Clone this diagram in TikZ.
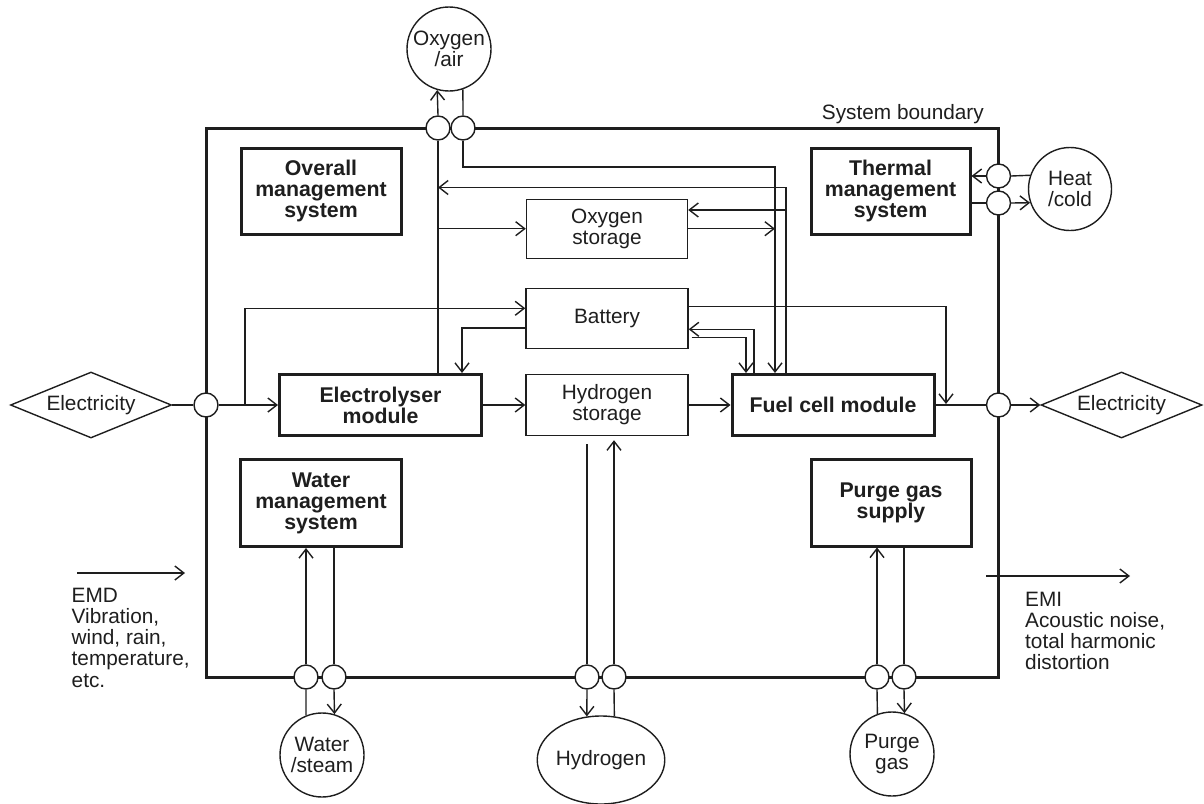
\documentclass[tikz,border=0pt]{standalone}
\usepackage{fontspec}
\setmainfont{Liberation Sans}
\usetikzlibrary{arrows.meta,shapes.geometric}
\definecolor{ink}{RGB}{30,30,30}
\begin{document}
\begin{tikzpicture}[x=1pt,y=-1pt,
  line/.style={draw=ink,line width=1.4pt},
  arr/.style={line,-{Straight Barb[length=9pt,width=14pt]}},
  regfont/.style={font=\fontsize{20.8}{21}\selectfont},
  thickbox/.style={draw=ink,line width=3pt,fill=white,align=center,inner sep=0pt,text=ink,
    font=\fontsize{21.3}{21}\selectfont\bfseries},
  thinbox/.style={draw=ink,line width=1.4pt,fill=white,align=center,inner sep=0pt,text=ink,regfont},
  port/.style={circle,draw=ink,line width=1.4pt,fill=white,minimum size=24pt,inner sep=0pt},
  ext/.style={circle,draw=ink,line width=1.4pt,minimum size=84pt,inner sep=0pt,align=center,text=ink,regfont},
  gem/.style={diamond,draw=ink,line width=1.4pt,aspect=2.45,minimum width=161pt,minimum height=66pt,inner sep=0pt,text=ink,regfont},
  txt/.style={inner sep=0pt,align=left,text=ink,font=\fontsize{20.8}{21.3}\selectfont},
  boundary/.style={draw=ink,line width=3pt}
]
\useasboundingbox (0,0) rectangle (1204,803);

% system boundary
\draw[boundary] (206,128) rectangle (998.5,677);
\node[txt,anchor=base east] (sysT) at (984,119) {System boundary};

% main blocks
\node[thickbox,minimum width=160pt,minimum height=86pt] (overall) at (321,191) {Overall\\management\\system};
\node[thickbox,minimum width=159pt,minimum height=86pt] (thermal) at (890.5,191) {Thermal\\management\\system};
\node[thickbox,minimum width=202pt,minimum height=61pt] (elys) at (380.5,405) {Electrolyser\\module};
\node[thickbox,minimum width=202pt,minimum height=61pt] (fc) at (833,405) {Fuel cell module};
\node[thickbox,minimum width=161pt,minimum height=87pt] (water) at (321,503) {Water\\management\\system};
\node[thickbox,minimum width=160pt,minimum height=87pt] (purge) at (891,502.5) {Purge gas\\supply};

\node[thinbox,minimum width=161pt,minimum height=59pt] (ostore) at (607,228.7) {Oxygen\\storage};
\node[thinbox,minimum width=162pt,minimum height=60pt] (batt) at (607,318.3) {Battery};
\node[thinbox,minimum width=162pt,minimum height=61pt] (hstore) at (607,405) {Hydrogen\\storage};

% external
\node[ext] (oxy) at (449,49) {Oxygen\\/air};
\node[ext,minimum size=83pt] (heat) at (1070,189) {Heat\\/cold};
\node[ext] (wat) at (322,755) {Water\\/steam};
\node[ellipse,draw=ink,line width=1.4pt,minimum width=98pt,minimum height=88pt,inner sep=0pt,text=ink,regfont] (hyd) at (601,760) {Hydrogen};
\node[ext] (pg) at (892,754) {Purge\\gas};
\node[gem] (elL) at (91,405) {Electricity};
\node[gem] (elR) at (1121.5,405) {Electricity};

% ports
\node[port] (pO1) at (438,128) {};
\node[port] (pO2) at (463,128) {};
\node[port] (pT1) at (998.5,176) {};
\node[port] (pT2) at (998.5,203) {};
\node[port] (pEL) at (206,405) {};
\node[port] (pER) at (998.5,405) {};
\node[port] (pW1) at (306,677) {};
\node[port] (pW2) at (334,677) {};
\node[port] (pH1) at (587,677) {};
\node[port] (pH2) at (614,677) {};
\node[port] (pP1) at (877,677) {};
\node[port] (pP2) at (904,677) {};

% junction coordinates
\coordinate (jB) at (245,405);
\coordinate (jE) at (946,404);
\coordinate (jA) at (775,167);
\coordinate (jO) at (438,187.5);
\coordinate (jC) at (786,210);
\coordinate (jD) at (438,228.7);
\coordinate (jF) at (775,228.7);
\coordinate (emdA) at (77,573);
\coordinate (emdB) at (185,573);
\coordinate (emiA) at (986,576);
\coordinate (emiB) at (1130,576);

% electricity path
\draw[line] (elL.east) -- (pEL.west);
\draw[arr] (pEL.east) -- (elys.west);
\draw[arr] (jB) |- ([yshift=10pt]batt.west);
\draw[arr] ([yshift=-9.5pt]batt.west) -| ([xshift=81.5pt]elys.north);
\draw[arr] (elys.east) -- (hstore.west);
\draw[arr] (hstore.east) -- (fc.west);
\draw[line] (fc.east) -- (pER.west);
\draw[arr] (pER.east) -- (elR.west);
\draw[arr] ([yshift=12pt]batt.east) -| (jE);

% oxygen
\draw[line] ([xshift=57.5pt]elys.north) -- (pO1.south);
\draw[arr] (pO1.north) -- (oxy.254.8);
\draw[line] (oxy.289.5) -- (pO2.north);
\draw[arr] (pO2.south) |- (jA) -- ([xshift=-58pt]fc.north);
\draw[arr] ([xshift=-47pt]fc.north) |- (jO);
\draw[arr] (jC) -- ([yshift=18.7pt]ostore.east);
\draw[arr] (jD) -- (ostore.west);
\draw[arr] (ostore.east) -- (jF);

% battery <-> fuel cell
\draw[arr] ([xshift=-79pt]fc.north) |- ([yshift=-11pt]batt.east);
\draw[arr] ([xshift=3pt,yshift=-19pt]batt.east) -| ([xshift=-87pt]fc.north);

% thermal
\draw[line] (heat.161.7) -- (pT1.east);
\draw[arr] (pT1.west) -- ([yshift=15pt]thermal.east);
\draw[line] ([yshift=-12pt]thermal.east) -- (pT2.west);
\draw[arr] (pT2.east) -- (heat.199.7);

% water
\draw[arr] (pW1.north) -- ([xshift=-15pt]water.south);
\draw[line] ([xshift=13pt]water.south) -- (pW2.north);
\draw[line] (wat.112.4) -- (pW1.south);
\draw[arr] (pW2.south) -- (wat.73.4);

% hydrogen
\draw[line] ([xshift=-20pt,yshift=-8pt]hstore.south) -- (pH1.north);
\draw[arr] (pH1.south) -- (hyd.108.4);
\draw[line] (hyd.73) -- (pH2.south);
\draw[arr] (pH2.north) -- ([xshift=7pt,yshift=-4pt]hstore.south);

% purge
\draw[arr] (pP1.north) -- ([xshift=-14pt]purge.south);
\draw[line] ([xshift=13pt]purge.south) -- (pP2.north);
\draw[line] (pg.110.9) -- (pP1.south);
\draw[arr] (pP2.south) -- (pg.73.4);

% EMD / EMI
\draw[arr] (emdA) -- (emdB);
\node[txt,anchor=north west] (emdT) at (71.5,587.5) {EMD\\Vibration,\\wind, rain,\\temperature,\\etc.};
\draw[arr] (emiA) -- (emiB);
\node[txt,anchor=north west] (emiT) at (1025,591.5) {EMI\\Acoustic noise,\\total harmonic\\distortion};
\end{tikzpicture}
\end{document}
